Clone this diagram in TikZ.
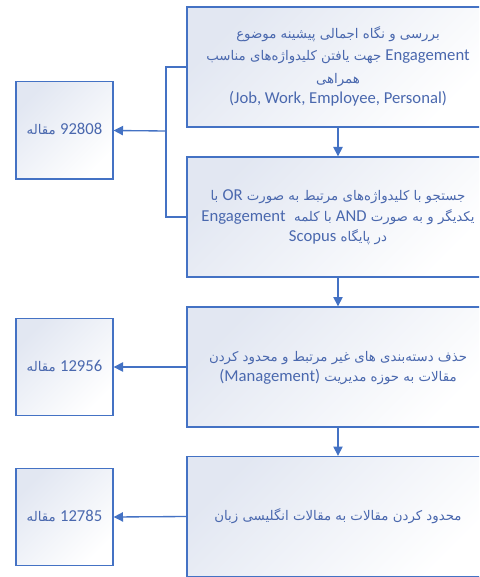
\documentclass[tikz,border=0pt]{standalone}
\usepackage{fontspec}
\usetikzlibrary{arrows.meta}
\TeXXeTstate=1
\newfontfamily\ar[Script=Arabic]{DejaVu Sans}
\newfontfamily\lat{Carlito}
\definecolor{edge}{HTML}{4472C4}
\definecolor{txt}{HTML}{4A68AE}
\definecolor{bg}{HTML}{E2E7F2}
\newcommand{\fa}{\fontsize{10}{15.2}\ar}
\newcommand{\la}{\fontsize{12.5}{15.2}\lat}
\newcommand{\ls}{\vrule height 10.6pt depth 4.4pt width 0pt}
\begin{document}
\begin{tikzpicture}[x=0.75pt,y=-0.75pt,
  box/.style={draw=edge,line width=1pt,top color=bg,bottom color=white,shading angle=45,
    text=txt,align=center,inner sep=0pt,font=\fontsize{12.5}{15.2}\selectfont},
  mainbox/.style={box,minimum width=226.5pt,minimum height=90pt},
  countbox/.style={box,minimum width=72.75pt,minimum height=73pt},
  conn/.style={draw=edge,line width=1pt},
  arr/.style={conn,-{Triangle[length=7pt,width=7pt]}}]
\useasboundingbox (0,0) rectangle (479,577);
\clip (0,0) rectangle (479,577);
\fill[white] (0,0) rectangle (479,577);
\node[mainbox] (b1) at (338,67) {%
  \ls{\fa\beginR بررسی و نگاه اجمالی پیشینه موضوع\endR}\\[1.8pt]
  \ls{\fa\beginR {\la\beginL Engagement\endL} جهت یافتن کلیدواژه‌های مناسب\endR}\\[1.8pt]
  \ls{\fa\beginR همراهی\endR}\\
  \ls{\la (Job, Work, Employee, Personal)}};
\node[mainbox] (b2) at (338,217) {%
  \ls{\fa\beginR جستجو با کلیدواژه‌های مرتبط به صورت {\la\beginL OR\endL} با\endR}\\
  \ls{\fa\beginR یکدیگر و به صورت {\la\beginL AND\endL} با کلمه \ {\la\beginL Engagement\endL}\endR}\\
  \ls{\fa\beginR در پایگاه {\la\beginL Scopus\endL}\endR}};
\node[mainbox] (b3) at (338,367) {%
  \ls{\fa\beginR حذف دسته‌بندی های غیر مرتبط و محدود کردن\endR}\\
  \ls{\fa\beginR مقالات به حوزه مدیریت {\la\beginL (Management)\endL}\endR}};
\node[mainbox] (b4) at (338,516.5) {%
  \ls{\fa\beginR محدود کردن مقالات به مقالات انگلیسی زبان\endR}};
\node[countbox] (c1) at (64.5,130.5) {\ls{\fa\beginR {\la 92808} مقاله\endR}};
\node[countbox] (c2) at (64.5,367) {\ls{\fa\beginR {\la 12956} مقاله\endR}};
\node[countbox] (c3) at (64.5,517) {\ls{\fa\beginR {\la 12785} مقاله\endR}};
\coordinate (j) at (166,131);
\draw[conn] (b1.west) -| (j) |- (b2.west);
\draw[arr] (j) -- (c1.east);
\draw[arr] (b1.south) -- (b2.north);
\draw[arr] (b2.south) -- (b3.north);
\draw[arr] (b3.south) -- (b4.north);
\draw[arr] (b3.west) -- (c2.east);
\draw[arr] (b4.west) -- (c3.east);
\end{tikzpicture}
\end{document}
